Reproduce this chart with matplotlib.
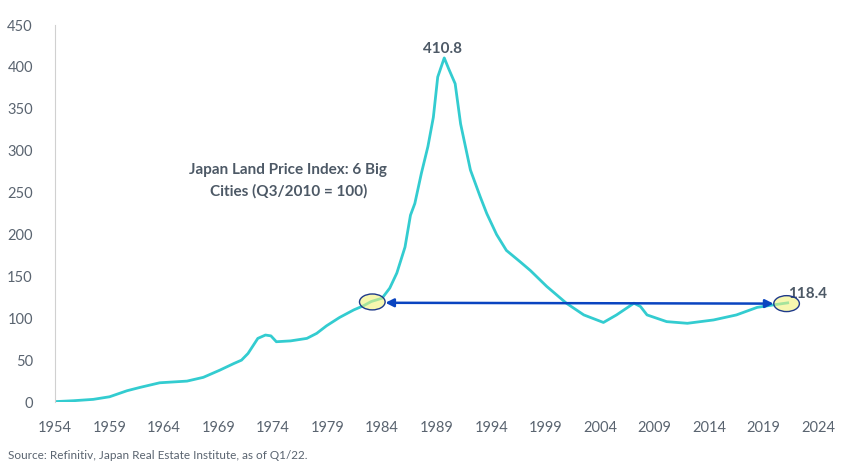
import numpy as np
import matplotlib.pyplot as plt
from matplotlib.patches import Ellipse

# Japan Land Price Index, 6 big cities (Q3/2010 = 100)
years = [1954, 1955.7, 1957.5, 1959.0, 1960.6, 1961.8, 1963.6, 1966.1, 1967.6, 1969.1,
         1970.4, 1971.1, 1971.7, 1972.6, 1973.3, 1973.8, 1974.3, 1975.6, 1977.1, 1978.0,
         1978.9, 1980.1, 1981.4, 1982.3, 1983.0, 1984.0, 1984.7, 1985.35, 1986.1, 1986.6,
         1987.0, 1987.6, 1988.2, 1988.7, 1989.1, 1989.7, 1990.1, 1990.7, 1991.2, 1992.1,
         1993.0, 1993.6, 1994.5, 1995.4, 1996.7, 1997.6, 1999.1, 2000.9, 2002.5, 2004.3,
         2005.5, 2007.1, 2007.7, 2008.3, 2010.1, 2012.0, 2014.4, 2016.5, 2018.4, 2019.9,
         2021.2]
values = [0.5, 1.6, 3.2, 6.3, 13.5, 17.5, 23, 25, 29.5, 38,
          46, 50, 58, 76, 80, 79, 72, 73, 76, 82,
          91, 101, 110, 115, 120, 124, 136, 154, 185, 223,
          237, 273, 305, 340, 388, 410.8, 398, 380, 332, 277,
          245, 225, 200, 181, 167, 157, 138, 118, 104, 95,
          104, 118, 114, 104, 96, 94, 98, 104, 113, 116,
          118.4]

xticks = list(range(1954, 2025, 5))
yticks = list(range(0, 451, 50))
peak_label = "410.8"
last_label = "118.4"
title = "Japan Land Price Index: 6 Big\nCities (Q3/2010 = 100)"
source = "Source: Refinitiv, Japan Real Estate Institute, as of Q1/22."

txt_col = "#4d5966"
line_col = "#33ccd0"

plt.rcParams["font.family"] = ["Lato", "DejaVu Sans"]

fig = plt.figure(figsize=(8.47, 4.73), dpi=100)
ax = fig.add_axes([0.065, 0.15, 0.901, 0.797])

ax.plot(years, values, color=line_col, lw=2.0, zorder=2)

ax.set_xlim(1954, 2024)
ax.set_ylim(0, 450)
ax.set_xticks(xticks)
ax.set_yticks(yticks)
ax.tick_params(length=0, labelsize=10.5, labelcolor="#5a6470")
ax.tick_params(axis="y", pad=16)
ax.tick_params(axis="x", pad=14)
for s in ["top", "right", "bottom"]:
    ax.spines[s].set_visible(False)
ax.spines["left"].set_color("#d0d0d0")

# highlight ellipses
for cx, cy in [(1983.1, 119.5), (2021.1, 117.5)]:
    ax.add_patch(Ellipse((cx, cy), 2.35, 19, facecolor="#f3f37a", alpha=0.6,
                         edgecolor="none", zorder=3))
    ax.add_patch(Ellipse((cx, cy), 2.35, 19, facecolor="none",
                         edgecolor="#1f3a8a", lw=1.0, zorder=4))

# double-headed arrow
ax.annotate("", xy=(1984.3, 118.5), xytext=(2019.9, 117.5),
            arrowprops=dict(arrowstyle="<|-|>", color="#0a44c0", lw=1.8,
                            mutation_scale=12, shrinkA=0, shrinkB=0), zorder=5)

ax.text(1989.55, 422, peak_label, ha="center", va="center", fontsize=11,
        fontweight="bold", color=txt_col)
ax.text(2023.0, 129, last_label, ha="center", va="center", fontsize=11,
        fontweight="bold", color=txt_col)
ax.text(1975.4, 264, title, ha="center", va="center", fontsize=11,
        fontweight="bold", color=txt_col, linespacing=1.6)

fig.text(0.009, 0.038, source, ha="left", va="center", fontsize=8.5, color="#5a6470")

fig.savefig("out.png", dpi=100)
